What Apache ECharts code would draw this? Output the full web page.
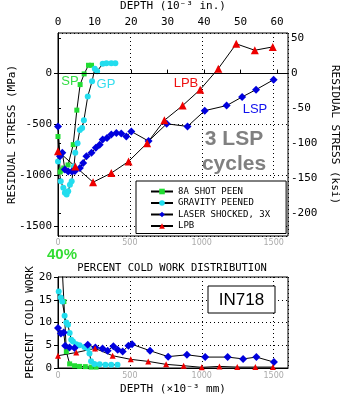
<!DOCTYPE html>
<html>
<head>
<meta charset="utf-8">
<script src="https://cdn.jsdelivr.net/npm/echarts@6/dist/echarts.min.js"></script>
<style>
  html, body { margin: 0; padding: 0; background: #fff; }
  #chart { width: 350px; height: 399px; }
</style>
</head>
<body>
<div id="chart"></div>
<script>
// depth in 10^-3 mm, stress in MPa
var spStress = [[0,-620],[15,-970],[25,-950],[40,-930],[70,-900],[106,-700],[131,-360],[154,-108],[182,-3],[212,82],[233,82]];
var gpStress = [[0,-865],[19,-1060],[37,-1125],[48,-1175],[60,-1190],[71,-1160],[83,-1095],[95,-1060],[111,-915],[120,-780],[136,-685],[152,-555],[168,-535],[180,-460],[207,-225],[237,-76],[256,49],[272,23],[311,96],[337,102],[371,102],[399,102]];
var lspStress = [[0,-520],[14,-815],[30,-780],[48,-945],[71,-965],[97,-965],[118,-960],[152,-930],[175,-880],[198,-815],[233,-780],[263,-730],[290,-700],[311,-650],[341,-635],[371,-600],[406,-585],[440,-590],[475,-620],[510,-570],[630,-665],[756,-495],[901,-520],[1021,-365],[1173,-315],[1281,-230],[1378,-158],[1500,-60]];
var lpbStress = [[0,-765],[120,-915],[244,-1070],[371,-980],[491,-865],[620,-685],[740,-460],[867,-315],[989,-158],[1115,49],[1240,293],[1369,230],[1494,263]];

// percent cold work
var spCold = [[0,40],[41,14.6],[58,3.6],[81,0.9],[115,0.5],[150,0.35],[190,0.3],[230,0.2],[265,0.2]];
var gpCold = [[5,16.8],[19,15.5],[30,14.6],[46,11.5],[58,10],[69,9.5],[81,7.7],[92,6.2],[104,5.8],[127,5.2],[150,5.0],[184,4.6],[207,4.3],[219,3.2],[230,1.5],[253,0.9],[290,0.8],[330,0.7],[370,0.7],[414,0.7]];
var lspCold = [[0,8.8],[20,7.6],[40,7.8],[50,4.9],[80,4.5],[115,4.4],[207,5.1],[260,4.5],[310,4.3],[345,3.8],[385,4.8],[415,4.0],[450,3.6],[490,4.9],[515,5.2],[640,3.8],[766,2.5],[897,2.9],[1024,2.4],[1180,2.4],[1288,2.0],[1380,2.4],[1502,1.3]];
var lpbCold = [[0,2.7],[127,3.4],[258,4.3],[380,2.7],[506,1.9],[628,1.45],[752,0.8],[874,0.5],[1000,0.15],[1123,0.35],[1247,0.2],[1373,0.2],[1495,0.2]];

var seriesNames = ["8A SHOT PEEN", "GRAVITY PEENED", "LASER SHOCKED, 3X", "LPB"];
var inchTicks = [0, 10, 20, 30, 40, 50, 60];
var ksiTicks = [50, 0, -50, -100, -150, -200];

var MONO = "DejaVu Sans Mono";
var SANS = "Liberation Sans";

var chart = echarts.init(document.getElementById("chart"));

function mk(name, data, grid, symbol, size, color) {
  return {
    name: name,
    type: "line",
    data: data,
    xAxisIndex: grid === 0 ? 0 : 2,
    yAxisIndex: grid === 0 ? 0 : 2,
    symbol: symbol,
    symbolSize: size,
    showAllSymbol: true,
    lineStyle: { color: "#000", width: 1 },
    itemStyle: { color: color },
    emphasis: { disabled: true },
    animation: false
  };
}

var dotted = { color: "#000", type: [1, 3], width: 1 };
var plain = function (v) { return String(v); };

function txt(x, y, text, font, fill) {
  return { type: "text", x: x, y: y, z: 20, style: { text: text, font: font, fill: fill, align: "center", verticalAlign: "middle", textAlign: "center", textVerticalAlign: "middle" } };
}

var option = {
  animation: false,
  grid: [
    { left: 58, top: 33, width: 230, height: 203, show: true, borderColor: "#000", borderWidth: 1, containLabel: false, outerBoundsMode: "none" },
    { left: 58, top: 277, width: 230, height: 91, show: true, borderColor: "#000", borderWidth: 1, containLabel: false, outerBoundsMode: "none" }
  ],
  xAxis: [
    {
      gridIndex: 0, type: "value", position: "bottom", min: 0, max: 1600, interval: 500,
      axisLine: { lineStyle: { color: "#000" } },
      axisTick: { show: false },
      axisLabel: { color: "#aaa", fontFamily: "DejaVu Sans", fontSize: 8, margin: 3, showMaxLabel: false, formatter: plain },
      splitLine: { show: true, lineStyle: dotted }
    },
    {
      gridIndex: 0, type: "value", position: "top", min: 0, max: 1600,
      name: "DEPTH (10\u207B\u00B3 in.)", nameLocation: "middle", nameGap: 21, nameMoveOverlap: false,
      nameTextStyle: { fontFamily: MONO, fontSize: 11, color: "#000" },
      axisLine: { lineStyle: { color: "#000" } },
      axisTick: { show: true, inside: false, length: 4, customValues: inchTicks.map(function (v) { return v * 25.4; }), lineStyle: { color: "#000" } },
      axisLabel: {
        customValues: inchTicks.map(function (v) { return v * 25.4; }),
        formatter: function (v) { return String(Math.round(v / 25.4)); },
        fontFamily: MONO, fontSize: 11, color: "#000", margin: 5
      },
      splitLine: { show: false }
    },
    {
      gridIndex: 1, type: "value", position: "bottom", min: 0, max: 1600, interval: 500,
      name: "DEPTH (\u00D710\u207B\u00B3 mm)", nameLocation: "middle", nameGap: 16, nameMoveOverlap: false,
      nameTextStyle: { fontFamily: MONO, fontSize: 11, color: "#000" },
      axisLine: { lineStyle: { color: "#000" } },
      axisTick: { show: false },
      axisLabel: { color: "#aaa", fontFamily: "DejaVu Sans", fontSize: 8, margin: 4, showMaxLabel: false, formatter: plain },
      splitLine: { show: true, lineStyle: dotted }
    }
  ],
  yAxis: [
    {
      gridIndex: 0, type: "value", position: "left", min: -1600, max: 400,
      name: "RESIDUAL STRESS (MPa)", nameLocation: "middle", nameGap: 40, nameMoveOverlap: false,
      nameTextStyle: { fontFamily: MONO, fontSize: 11, color: "#000" },
      axisLine: { lineStyle: { color: "#000" } },
      axisTick: { show: true, inside: false, length: 4, lineStyle: { color: "#000" } },
      axisLabel: { fontFamily: MONO, fontSize: 11, color: "#000", margin: 6, showMinLabel: false, showMaxLabel: false, formatter: plain },
      splitLine: { show: true, lineStyle: dotted }
    },
    {
      gridIndex: 0, type: "value", position: "right", min: -1600, max: 400,
      name: "RESIDUAL STRESS (ksi)", nameLocation: "middle", nameGap: 41, nameRotate: -90, nameMoveOverlap: false,
      nameTextStyle: { fontFamily: MONO, fontSize: 11, color: "#000" },
      axisLine: { lineStyle: { color: "#000" } },
      axisTick: { show: true, inside: false, length: 3, customValues: ksiTicks.map(function (v) { return v * 6.895; }), lineStyle: { color: "#000" } },
      axisLabel: {
        customValues: ksiTicks.map(function (v) { return v * 6.895; }),
        formatter: function (v) { return String(Math.round(v / 6.895)); },
        fontFamily: MONO, fontSize: 11, color: "#000", margin: 3
      },
      splitLine: { show: false }
    },
    {
      gridIndex: 1, type: "value", position: "left", min: 0, max: 20, interval: 5,
      name: "PERCENT COLD WORK", nameLocation: "middle", nameGap: 22, nameMoveOverlap: false,
      nameTextStyle: { fontFamily: MONO, fontSize: 11, color: "#000" },
      axisLine: { lineStyle: { color: "#000" } },
      axisTick: { show: true, inside: false, length: 4, lineStyle: { color: "#000" } },
      axisLabel: { fontFamily: MONO, fontSize: 11, color: "#000", margin: 6, formatter: plain },
      splitLine: { show: true, lineStyle: dotted }
    }
  ],
  legend: {
    data: seriesNames,
    orient: "vertical",
    left: 136, top: 181,
    itemWidth: 22, itemHeight: 7, itemGap: 2.5,
    padding: [6, 16, 3, 14],
    borderColor: "#000", borderWidth: 1, backgroundColor: "#fff",
    selectedMode: false,
    textStyle: { fontFamily: MONO, fontSize: 9, lineHeight: 8, color: "#000" }
  },
  series: [
    mk(seriesNames[0], spStress, 0, "rect", 5, "#22dd33"),
    mk(seriesNames[1], gpStress, 0, "circle", 6, "#22ddee"),
    mk(seriesNames[2], lspStress, 0, "diamond", 8, "#0000dd"),
    Object.assign(mk(seriesNames[3], lpbStress, 0, "triangle", 8, "#ee0000"), {
      markLine: {
        silent: true, symbol: "none", animation: false,
        label: { show: false },
        lineStyle: { color: "#000", type: "solid", width: 1 },
        data: [{ yAxis: 0 }]
      }
    }),
    mk(seriesNames[0], spCold, 1, "rect", 5, "#22dd33"),
    mk(seriesNames[1], gpCold, 1, "circle", 6, "#22ddee"),
    mk(seriesNames[2], lspCold, 1, "diamond", 8, "#0000dd"),
    mk(seriesNames[3], lpbCold, 1, "triangle", 6, "#ee0000")
  ],
  graphic: [
    txt(70, 81, "SP", "13px " + SANS, "#33dd44"),
    txt(106, 84, "GP", "13px " + SANS, "#33ddee"),
    txt(186, 83, "LPB", "13px " + SANS, "#ee1111"),
    txt(255, 109, "LSP", "13px " + SANS, "#1111ee"),
    txt(234, 139, "3 LSP", "bold 21px " + SANS, "#808080"),
    txt(234, 164, "cycles", "bold 21px " + SANS, "#808080"),
    txt(62, 255, "40%", "bold 15px " + SANS, "#33dd33"),
    txt(172, 268, "PERCENT COLD WORK DISTRIBUTION", "10.5px " + MONO, "#000"),
    { type: "rect", shape: { x: 208, y: 286, width: 67, height: 27 }, style: { fill: "#fff", stroke: "#000", lineWidth: 1 }, z: 10 },
    txt(241.5, 300, "IN718", "17px " + SANS, "#000")
  ]
};

chart.setOption(option);
</script>
</body>
</html>
